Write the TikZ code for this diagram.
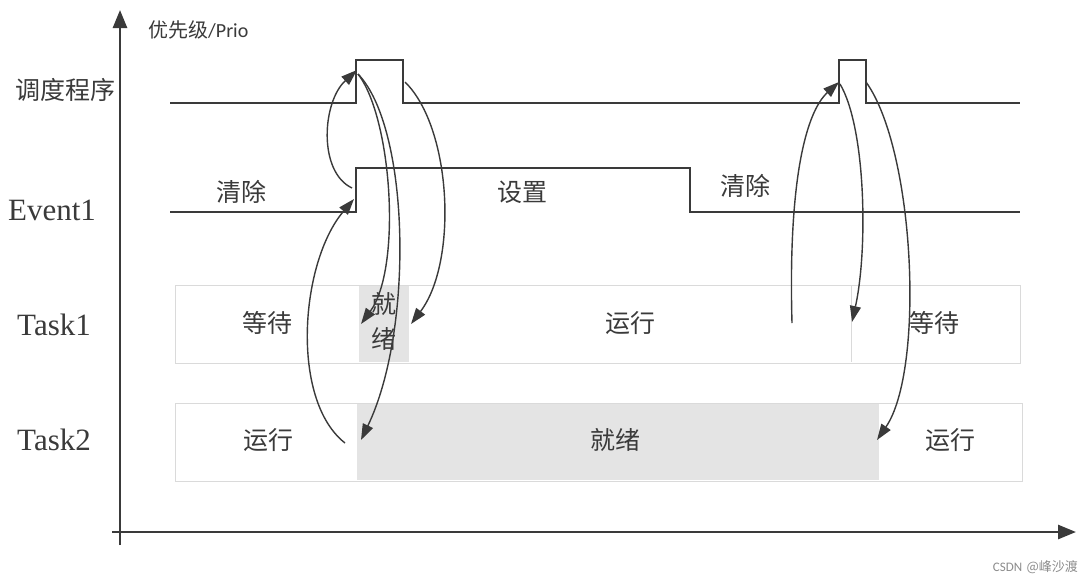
\documentclass[tikz,border=0pt]{standalone}
\usepackage{fontspec}
\newfontfamily\cjk{Noto Sans CJK SC}
\newfontfamily\tnr{Liberation Serif}
\newfontfamily\calfont{Carlito}
\usetikzlibrary{arrows.meta}
\definecolor{ink}{HTML}{3A3A3A}
\definecolor{boxline}{HTML}{DADADA}
\definecolor{readyfill}{HTML}{E4E4E4}
\begin{document}
\begin{tikzpicture}[x=1pt,y=-1pt,
  axis/.style={line width=2.6pt,draw=ink,-{Triangle[length=18pt,width=14pt]}},
  wave/.style={line width=1.6pt,draw=ink},
  flow/.style={line width=1.4pt,draw=ink,-{Triangle[length=16pt,width=11pt]}},
  rowbox/.style={draw=boxline,line width=1pt,fill=white},
  readybox/.style={fill=readyfill,draw=none},
  lab/.style={font=\cjk\fontsize{25}{27}\selectfont,text=ink,inner sep=0pt},
  rowlab/.style={font=\tnr\fontsize{31}{33}\selectfont,text=ink,inner sep=0pt},
]
\useasboundingbox (0,0) rectangle (1089,584);
\fill[white] (0,0) rectangle (1089,584);

% task rows
\draw[rowbox] (175,285) rectangle (1020,363);
\fill[readybox] (359,286) rectangle (409,362);
\draw[boxline,line width=0.8pt] (851,286) -- (851,362);
\draw[rowbox] (175,403) rectangle (1022,481);
\fill[readybox] (357,404) rectangle (879,480);

% axes
\coordinate (O) at (120,545);
\coordinate (ytop) at (120,10);
\coordinate (xo) at (112,532);
\coordinate (xend) at (1076,532);
\draw[axis] (O) -- (ytop);
\draw[axis] (xo) -- (xend);
\node[font=\fontsize{20}{22}\selectfont,text=ink,anchor=west,inner sep=0pt] (prio) at (148,30) {{\cjk 优先级}{\calfont /Prio}};

% row labels
\node[lab] (lsched) at (66,90) {调度程序};
\node[rowlab] (levent) at (52,210) {Event1};
\node[rowlab] (ltask1) at (54,325) {Task1};
\node[rowlab] (ltask2) at (54,440) {Task2};

% scheduler wave
\draw[wave] (170,103) -- (356,103) -- (356,60) -- (403,60) -- (403,103) -- (839,103) -- (839,60) -- (866,60) -- (866,103) -- (1020,103);
% event wave
\draw[wave] (170,212) -- (356,212) -- (356,168) -- (690,168) -- (690,212) -- (1020,212);

% labels
\node[lab] (clr1) at (241,192) {清除};
\node[lab] (set) at (522,192) {设置};
\node[lab] (clr2) at (745,186) {清除};
\node[lab] (wait1) at (267,323) {等待};
\node[lab] (rdy1a) at (384,304) {就};
\node[lab] (rdy1b) at (384,339) {绪};
\node[lab] (run1) at (630,323) {运行};
\node[lab] (wait2) at (934,323) {等待};
\node[lab] (run2a) at (268,440) {运行};
\node[lab] (rdy2) at (615,440) {就绪};
\node[lab] (run2b) at (950,440) {运行};

% connector endpoints
\coordinate (t2run) at (345,443);
\coordinate (evrise) at (354,199);
\coordinate (evrise2) at (352,188);
\coordinate (sch1) at (357,70);
\coordinate (sch1b) at (358,74);
\coordinate (t1rdyL) at (361,324);
\coordinate (t2rdyL) at (361,440);
\coordinate (sch1fall) at (405,82);
\coordinate (t1rdyR) at (411,324);
\coordinate (t1run) at (792,323);
\coordinate (sch2) at (839,82);
\coordinate (sch2b) at (840,84);
\coordinate (t1wait) at (852,322);
\coordinate (sch2fall) at (866,82);
\coordinate (t2run2) at (877,440);

\draw[flow] (t2run) .. controls (290,400) and (300,262) .. (evrise);
\draw[flow] (evrise2) .. controls (318,172) and (322,102) .. (sch1);
\draw[flow] (sch1b) .. controls (392,118) and (402,268) .. (t1rdyL);
\draw[flow] (sch1b) .. controls (410,128) and (414,330) .. (t2rdyL);
\draw[flow] (sch1fall) .. controls (452,128) and (458,262) .. (t1rdyR);
\draw[flow] (t1run) .. controls (788,180) and (806,112) .. (sch2);
\draw[flow] (sch2b) .. controls (866,128) and (868,250) .. (t1wait);
\draw[flow] (sch2fall) .. controls (915,150) and (925,370) .. (t2run2);

% watermark
\node[font=\fontsize{13}{15}\selectfont,text=black!45,anchor=east,inner sep=0pt] (wm) at (1078,567) {{\calfont CSDN} {\cjk @峰沙渡}};
\end{tikzpicture}
\end{document}
